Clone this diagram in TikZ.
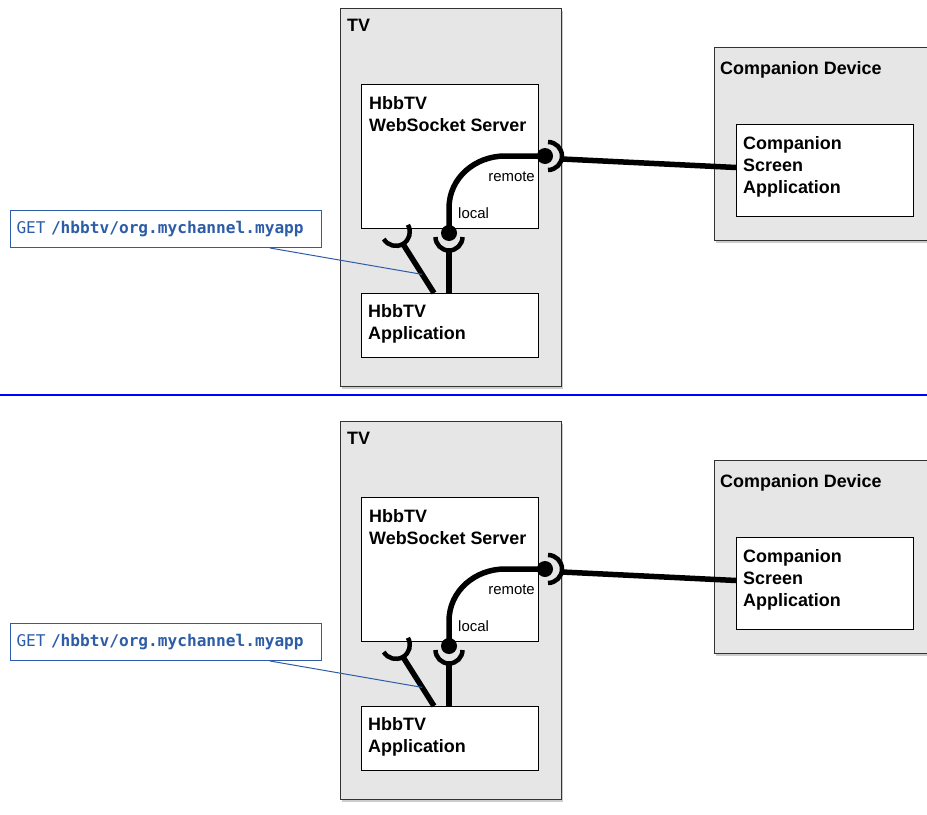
\documentclass[tikz,border=0pt]{standalone}
\usepackage{fontspec}
\setmainfont{Liberation Sans}
\setmonofont{DejaVu Sans Mono}
\usetikzlibrary{positioning,calc,shadows}
\definecolor{frame}{HTML}{333333}
\definecolor{panel}{HTML}{E6E6E6}
\definecolor{linkblue}{HTML}{2E5DA8}
\definecolor{rulecol}{HTML}{0000FF}

\begin{document}
\begin{tikzpicture}[
  x=1bp, y=-1bp,
  font=\bfseries\fontsize{18}{22.2}\selectfont,
  outer/.style={
    draw=frame, line width=1.2bp, fill=panel, anchor=north west, inner sep=0,
    drop shadow={shadow xshift=1.5bp, shadow yshift=-2bp, opacity=.2, fill=black}
  },
  inner/.style={draw=black, line width=1bp, fill=white, anchor=north west, inner sep=0},
  caption/.style={inner sep=0, align=left, text=black},
  port/.style={inner sep=0, font=\mdseries\fontsize{15}{17}\selectfont},
  getbox/.style={
    draw=linkblue, line width=1bp, fill=white, anchor=north west,
    inner xsep=6bp, inner ysep=0, text width=299bp, minimum height=37bp,
    align=left, text=linkblue, font=\ttfamily\mdseries\fontsize{16.2}{18}\selectfont
  },
  ball/.style={circle, fill=black, minimum size=16bp, inner sep=0},
  wire/.style={line width=5.5bp, draw=black},
  cup/.style={line width=4.5bp, draw=black},
  leader/.style={line width=1bp, draw=linkblue},
  rule/.style={line width=2.5bp, draw=rulecol}
]
\useasboundingbox (0,0) rectangle (927,815);

\foreach \dy/\p in {0/a, 413/b} {
\begin{scope}[shift={(0,\dy)}]
  % boxes
  \node[outer, minimum width=221bp, minimum height=378bp] (tv\p) at (340,8) {};
  \node[outer, minimum width=222bp, minimum height=193bp] (dev\p) at (714,47) {};
  \node[inner, minimum width=177bp, minimum height=144bp] (ws\p) at (361,84) {};
  \node[inner, minimum width=177bp, minimum height=64bp] (app\p) at (361,293) {};
  \node[inner, minimum width=177bp, minimum height=92bp] (cdapp\p) at (736,124) {};
  \node[getbox] (get\p) at (10,210)
    {GET \textbf{/hbbtv/org.mychannel.myapp}};

  % titles
  \node[caption, below right=11bp and 7bp of tv\p.north west] (tvtitle\p) {TV};
  \node[caption, below right=14bp and 6bp of dev\p.north west] (devtitle\p) {Companion Device};
  \node[caption, below right=12bp and 8bp of ws\p.north west] (wstitle\p) {HbbTV\\WebSocket Server};
  \node[caption, below right=11bp and 7bp of app\p.north west] (apptitle\p) {HbbTV\\Application};
  \node[caption, below right=12bp and 7bp of cdapp\p.north west] (cdtitle\p) {Companion\\Screen\\Application};

  % ports
  \node[ball] (remote\p) at (545,156) {};
  \node[ball] (local\p) at (449,233) {};
  \node[port, anchor=base east] (remotetag\p) at ($(ws\p.south east)+(-4,-48)$) {remote};
  \node[port, anchor=base west] (localtag\p) at ($(local\p.center)+(9,-15)$) {local};
  \coordinate (cupbase\p) at (403,244);
  \coordinate (plug\p) at ($(app\p.north west)+(73,0)$);

  % connections
  \draw[wire] (local\p.center) -- ++(0,-25)
    .. controls +(0,-30) and +(-30,0) .. ($(remote\p.center)+(-40,0)$) -- (remote\p.center);
  \draw[cup] (remote\p.center) ++(3,-14) arc[start angle=-90, end angle=90, radius=14];
  \draw[wire] ($(remote\p.center)+(17,3)$) -- ($(cdapp\p.west)+(0,-3)$);
  \draw[cup] (local\p.center) ++(13.5,4) arc[start angle=0, end angle=180, radius=13.5];
  \draw[wire] ($(local\p.center)+(0,17)$) -- (local\p |- app\p.north);
  \draw[cup] ($(cupbase\p)+(4.9,-19.2)$) arc[start angle=-30.5, end angle=149.5, radius=14];
  \draw[wire] (cupbase\p) -- (plug\p);
  \draw[leader] ($(get\p.south west)+(260,0)$) -- ($(cupbase\p)!0.62!(plug\p)$);
\end{scope}
}

\draw[rule] (0,395) -- (927,395);

\end{tikzpicture}
\end{document}
